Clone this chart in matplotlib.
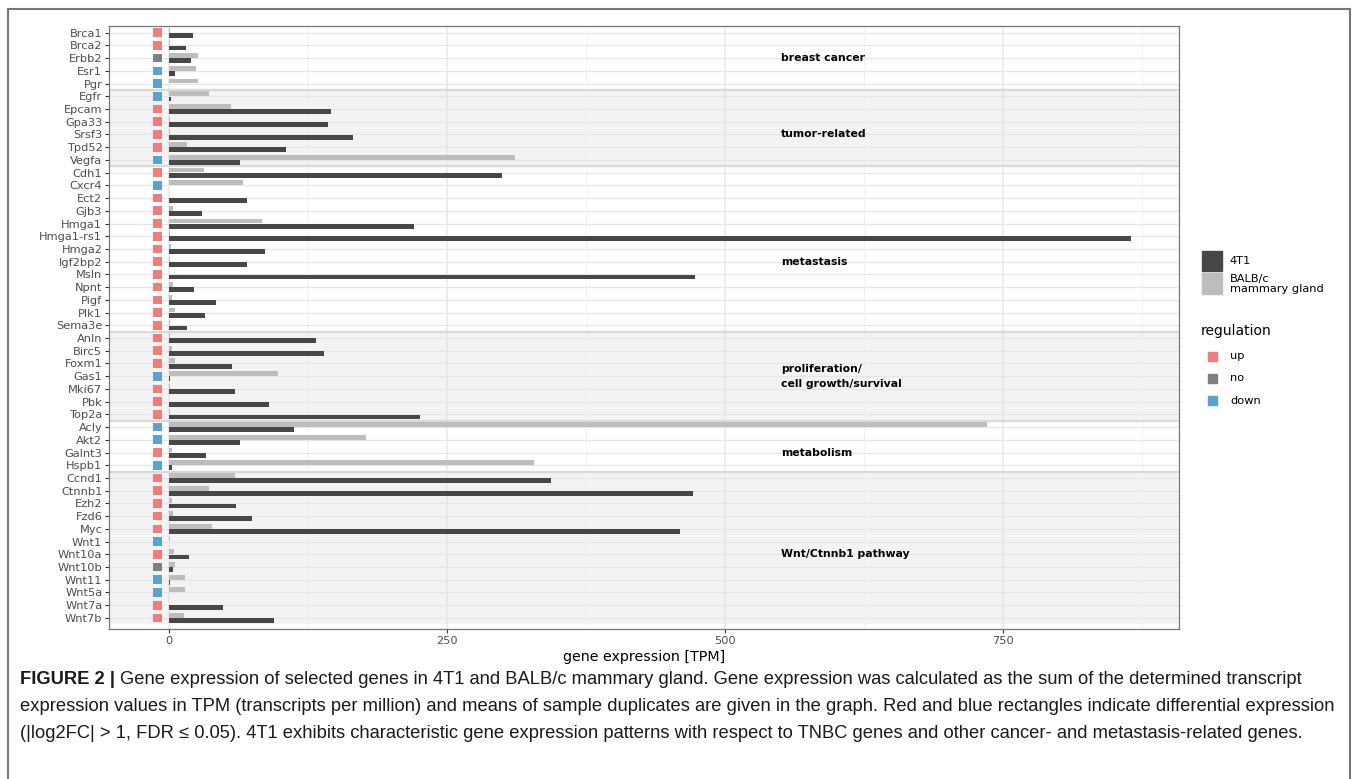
import matplotlib.pyplot as plt
from matplotlib.patches import Rectangle

genes = ['Brca1', 'Brca2', 'Erbb2', 'Esr1', 'Pgr',
         'Egfr', 'Epcam', 'Gpa33', 'Srsf3', 'Tpd52', 'Vegfa',
         'Cdh1', 'Cxcr4', 'Ect2', 'Gjb3', 'Hmga1', 'Hmga1-rs1', 'Hmga2', 'Igf2bp2',
         'Msln', 'Npnt', 'Pigf', 'Plk1', 'Sema3e',
         'Anln', 'Birc5', 'Foxm1', 'Gas1', 'Mki67', 'Pbk', 'Top2a',
         'Acly', 'Akt2', 'Galnt3', 'Hspb1',
         'Ccnd1', 'Ctnnb1', 'Ezh2', 'Fzd6', 'Myc', 'Wnt1', 'Wnt10a', 'Wnt10b',
         'Wnt11', 'Wnt5a', 'Wnt7a', 'Wnt7b']

# TPM, 4T1 (dark bars)
tpm_4t1 = [21.8, 15.2, 19.8, 5.7, 0.3,
           1.8, 145.4, 143.2, 165.4, 105.2, 64.1,
           299.4, 0.3, 70.4, 30.0, 220.0, 864.5, 86.3, 70.4,
           472.6, 22.2, 42.0, 32.1, 16.2,
           131.9, 139.1, 56.9, 0.6, 59.6, 89.6, 225.6,
           112.1, 63.8, 33.3, 2.7,
           343.7, 471.3, 60.3, 75.0, 459.4, 0.0, 17.7, 3.9,
           0.5, 0.0, 48.6, 94.5]

# TPM, BALB/c mammary gland (light bars)
tpm_balbc = [0.5, 1.0, 26.1, 24.5, 25.8,
             35.7, 55.7, 0.8, 1.0, 15.9, 310.8,
             31.2, 66.5, 0.3, 3.6, 83.9, 0.5, 2.1, 0.6,
             0.3, 3.6, 3.0, 5.7, 0.6,
             0.6, 3.0, 5.7, 98.3, 0.6, 0.2, 0.6,
             735.4, 177.1, 2.7, 327.8,
             58.9, 36.0, 3.0, 3.3, 38.7, 1.0, 4.8, 5.7,
             14.7, 14.7, 0.0, 13.5]

regulation = ['up', 'up', 'no', 'down', 'down',
              'down', 'up', 'up', 'up', 'up', 'down',
              'up', 'down', 'up', 'up', 'up', 'up', 'up', 'up',
              'up', 'up', 'up', 'up', 'up',
              'up', 'up', 'up', 'down', 'up', 'up', 'up',
              'down', 'down', 'up', 'down',
              'up', 'up', 'up', 'up', 'up', 'down', 'up', 'no',
              'down', 'down', 'up', 'up']

group_names = ['breast cancer', 'tumor-related', 'metastasis',
               'proliferation/\ncell growth/survival', 'metabolism', 'Wnt/Ctnnb1 pathway']
group_first = ['Brca1', 'Egfr', 'Cdh1', 'Anln', 'Acly', 'Ccnd1']
group_last = ['Pgr', 'Vegfa', 'Sema3e', 'Top2a', 'Hspb1', 'Wnt7b']
group_label_at = ['Erbb2', 'Srsf3', 'Igf2bp2', 'Gas1', 'Galnt3', 'Wnt10a']

reg_colors = {'up': '#F07C7C', 'no': '#7F7F7F', 'down': '#5BA2D2'}
dark = '#474747'
light = '#BDBDBD'

W, H = 1358, 779
fig = plt.figure(figsize=(W / 100, H / 100), dpi=100)


def fx(x):
    return x / W


def fy(y):
    return 1 - y / H


ax = fig.add_axes([fx(109.3), fy(629), (1179 - 109.3) / W, (629 - 25.7) / H])
ax.set_facecolor('white')

ypos = list(range(len(genes)))

# alternating group bands
for i in range(len(group_names)):
    a = genes.index(group_first[i]) - 0.5
    b = genes.index(group_last[i]) + 0.5
    if i % 2 == 1:
        ax.axhspan(a, b, color='#F3F3F3', zorder=0, lw=0)
    if i < len(group_names) - 1:
        ax.axhline(b, color='#D9D9D9', lw=1.6, zorder=0.6)

# grid
for y in ypos:
    ax.axhline(y, color='#E6E6E6', lw=0.9, zorder=0.5)
for x in [0, 250, 500, 750]:
    ax.axvline(x, color='#E8E8E8', lw=1.1, zorder=0.5)
for x in [125, 375, 625, 875]:
    ax.axvline(x, color='#EFEFEF', lw=0.6, zorder=0.5)

ax.barh([y - 0.205 for y in ypos], tpm_balbc, height=0.38, color=light, zorder=2)
ax.barh([y + 0.205 for y in ypos], tpm_4t1, height=0.38, color=dark, zorder=2)
ax.barh(ypos, 8.4, left=-14.4, height=0.68,
        color=[reg_colors[r] for r in regulation], zorder=2)

for name, g in zip(group_names, group_label_at):
    ax.text(550, genes.index(g), name, fontsize=7.8, fontweight='bold',
            va='center', ha='left', color='black', linespacing=1.6, zorder=3)

ax.set_xlim(-53.7, 908)
ax.set_ylim(46.87, -0.55)
ax.set_yticks(ypos)
ax.set_yticklabels(genes)
ax.set_xticks([0, 250, 500, 750])
ax.set_xticklabels(['0', '250', '500', '750'])
ax.tick_params(length=3, width=0.8, color='#333333', labelcolor='#4D4D4D',
               labelsize=8.2, pad=2)
for s in ax.spines.values():
    s.set_color('#777777')
    s.set_linewidth(0.9)
ax.set_xlabel('gene expression [TPM]', fontsize=10.3, color='black', labelpad=3)

# legends
fig.patches.append(Rectangle((fx(1202), fy(271)), 20 / W, 20 / H,
                             transform=fig.transFigure, color=dark))
fig.patches.append(Rectangle((fx(1202), fy(294)), 20 / W, 21 / H,
                             transform=fig.transFigure, color=light))
fig.text(fx(1230), fy(261.5), '4T1', fontsize=8.2, va='center', color='black')
fig.text(fx(1230), fy(284), 'BALB/c\nmammary gland', fontsize=8.2, va='center',
         color='black', linespacing=0.95)
fig.text(fx(1201), fy(330.5), 'regulation', fontsize=10, va='center', color='black')
for k, (lab, yy) in enumerate(zip(['up', 'no', 'down'], [356, 378.3, 400.7])):
    fig.patches.append(Rectangle((fx(1207.7), fy(yy + 4.5)), 9 / W, 9 / H,
                                 transform=fig.transFigure, color=reg_colors[lab]))
    fig.text(fx(1230), fy(yy), lab, fontsize=8.2, va='center', color='black')

# frame
fig.patches.append(Rectangle((fx(8), fy(790)), (1350 - 8) / W, (790 - 9) / H,
                             transform=fig.transFigure, fill=False,
                             ec='#777777', lw=1.5))

# caption
cap_font = 'Liberation Sans'
cap_size = 13.25
lines = ['Gene expression of selected genes in 4T1 and BALB/c mammary gland. '
         'Gene expression was calculated as the sum of the determined transcript',
         'expression values in TPM (transcripts per million) and means of sample duplicates '
         'are given in the graph. Red and blue rectangles indicate differential expression',
         '(|log2FC| > 1, FDR \u2264 0.05). 4T1 exhibits characteristic gene expression patterns '
         'with respect to TNBC genes and other cancer- and metastasis-related genes.']
r = fig.canvas.get_renderer()
t = fig.text(fx(20), fy(680), 'FIGURE 2 | ', fontsize=cap_size, family=cap_font,
             fontweight='bold', va='center', color='#1A1A1A')
bb = t.get_window_extent(renderer=r)
fig.text(bb.x1 / W, fy(680), lines[0], fontsize=cap_size, family=cap_font,
         va='center', color='#1A1A1A')
fig.text(fx(20), fy(706.5), lines[1], fontsize=cap_size, family=cap_font,
         va='center', color='#1A1A1A')
fig.text(fx(20), fy(733), lines[2], fontsize=cap_size, family=cap_font,
         va='center', color='#1A1A1A')

fig.savefig('out.png', dpi=100)
